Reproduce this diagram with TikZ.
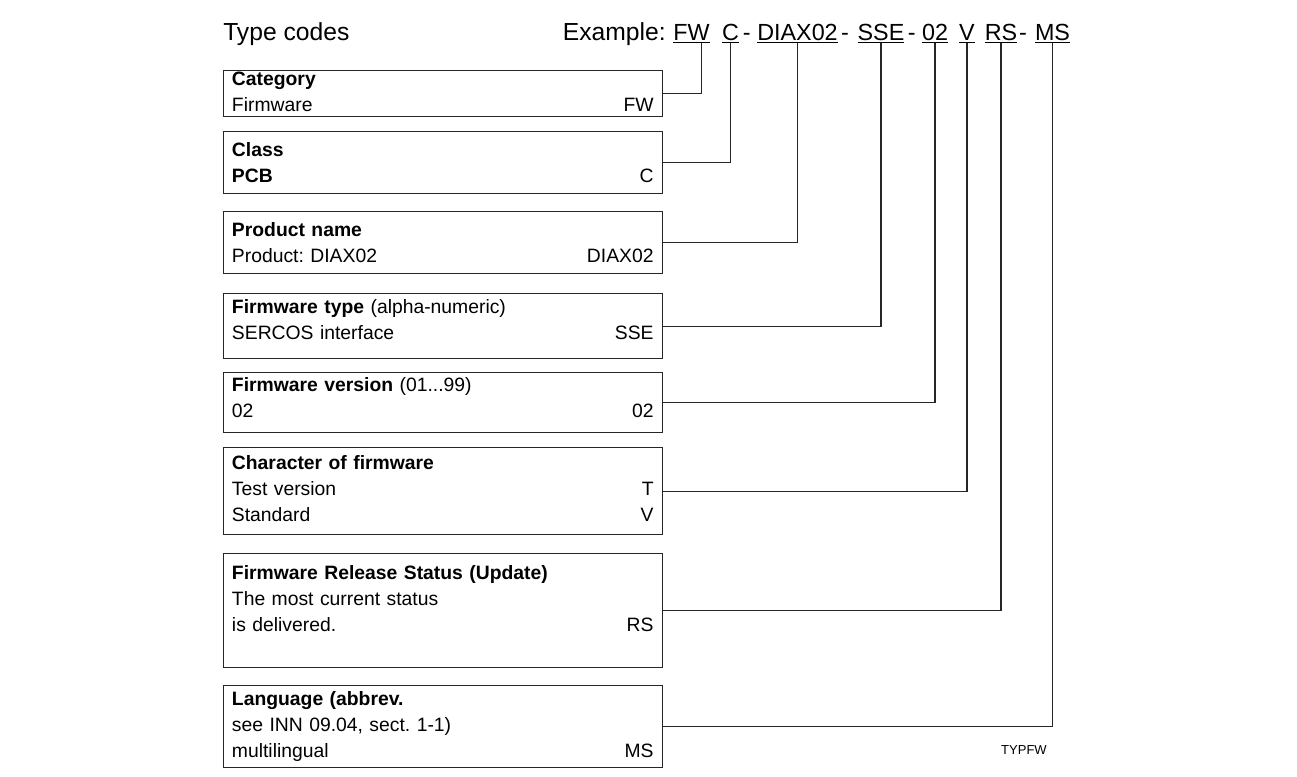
\documentclass[tikz,border=0pt]{standalone}
\usepackage{fontspec}
\setmainfont{Liberation Sans}
\frenchspacing
\newcommand{\rcode}[1]{\hskip 0pt plus 1filll #1}
\tikzset{%
  box/.style={draw=black!85, line width=0.8pt, anchor=north west,
              minimum width=329.25pt, inner sep=0pt},
  boxtext/.style={anchor=base west, inner sep=0pt, text width=316.2pt,
                  align=left, font=\fontsize{14.5}{19.5}\selectfont},
  hdr/.style={anchor=base, inner sep=0pt, font=\fontsize{17.5}{21}\selectfont},
  code/.style={hdr, inner sep=0.2pt},
  link/.style={draw=black!85, line width=0.8pt},
}

\begin{document}
\begin{tikzpicture}[x=0.75pt,y=-0.75pt]
              \useasboundingbox (0,0) rectangle (1297,776);
              \node[hdr,anchor=base west,font=\fontsize{18.5}{22}\selectfont] (title) at (223,40) {Type codes};
              \node[hdr,anchor=base east,font=\fontsize{18.5}{22}\selectfont] (ex) at (666,40) {Example:};
              \node[code] (fw) at (691.5,40) {\underline{FW}};
              \node[code] (c) at (730.5,40) {\underline{C}};
              \node[hdr] (d1) at (746.7,40) {-};
              \node[code] (diax) at (797.5,40) {\underline{DIAX02}};
              \node[hdr] (d2) at (845,40) {-};
              \node[code] (sse) at (881,40) {\underline{SSE}};
              \node[hdr] (d3) at (911.7,40) {-};
              \node[code] (ver) at (935,40) {\underline{02}};
              \node[code] (v) at (967,40) {\underline{V}};
              \node[code] (rs) at (1001,40) {\underline{RS}};
              \node[hdr] (d4) at (1023,40) {-};
              \node[code] (ms) at (1052.5,40) {\underline{MS}};
              \node[box,minimum height=34.5pt] (Cat) at (223,70) {};
              \node[boxtext] (CatT) at (231.7,85.3) {\textbf{Category}\\Firmware\rcode{FW}};
              \node[box,minimum height=46.5pt] (Cls) at (223,131) {};
              \node[boxtext] (ClsT) at (231.7,156.7) {\textbf{Class}\\\textbf{PCB}\rcode{C}};
              \node[box,minimum height=46.5pt] (Prod) at (223,211) {};
              \node[boxtext] (ProdT) at (231.7,236) {\textbf{Product name}\\Product: DIAX02\rcode{DIAX02}};
              \node[box,minimum height=48.75pt] (Typ) at (223,293) {};
              \node[boxtext] (TypT) at (231.7,313.3) {\textbf{Firmware type} (alpha-numeric)\\SERCOS interface\rcode{SSE}};
              \node[box,minimum height=45pt] (Ver) at (223,372) {};
              \node[boxtext] (VerT) at (231.7,391.7) {\textbf{Firmware version} (01...99)\\02\rcode{02}};
              \node[box,minimum height=65.25pt] (Chr) at (223,447) {};
              \node[boxtext] (ChrT) at (231.7,469.3) {\textbf{Character of firmware}\\Test version\rcode{T}\\Standard\rcode{V}};
              \node[box,minimum height=85.5pt] (Rel) at (223,553) {};
              \node[boxtext] (RelT) at (231.7,579) {\textbf{Firmware Release Status (Update)}\\The most current status\\is delivered.\rcode{RS}};
              \node[box,minimum height=61.5pt] (Lang) at (223,685) {};
              \node[boxtext] (LangT) at (231.7,705) {\textbf{Language (abbrev.}\\see INN 09.04, sect. 1-1)\\multilingual\rcode{MS}};
              \draw[link] (Cat.east) -| ([xshift=7.5pt]fw.south);
              \draw[link] (Cls.east) -| (c.south);
              \draw[link] (Prod.east) -| (diax.south);
              \draw[link] (Typ.east) -| (sse.south);
              \draw[link] (Ver.east) -| (ver.south);
              \draw[link] (Chr.east) -| (v.south);
              \draw[link] (Rel.east) -| (rs.south);
              \draw[link] (Lang.east) -| (ms.south);
              \node[anchor=base east,inner sep=0pt,font=\fontsize{9.75}{12}\selectfont] (tag) at (1047,754) {TYPFW};
          \end{tikzpicture}
\end{document}
